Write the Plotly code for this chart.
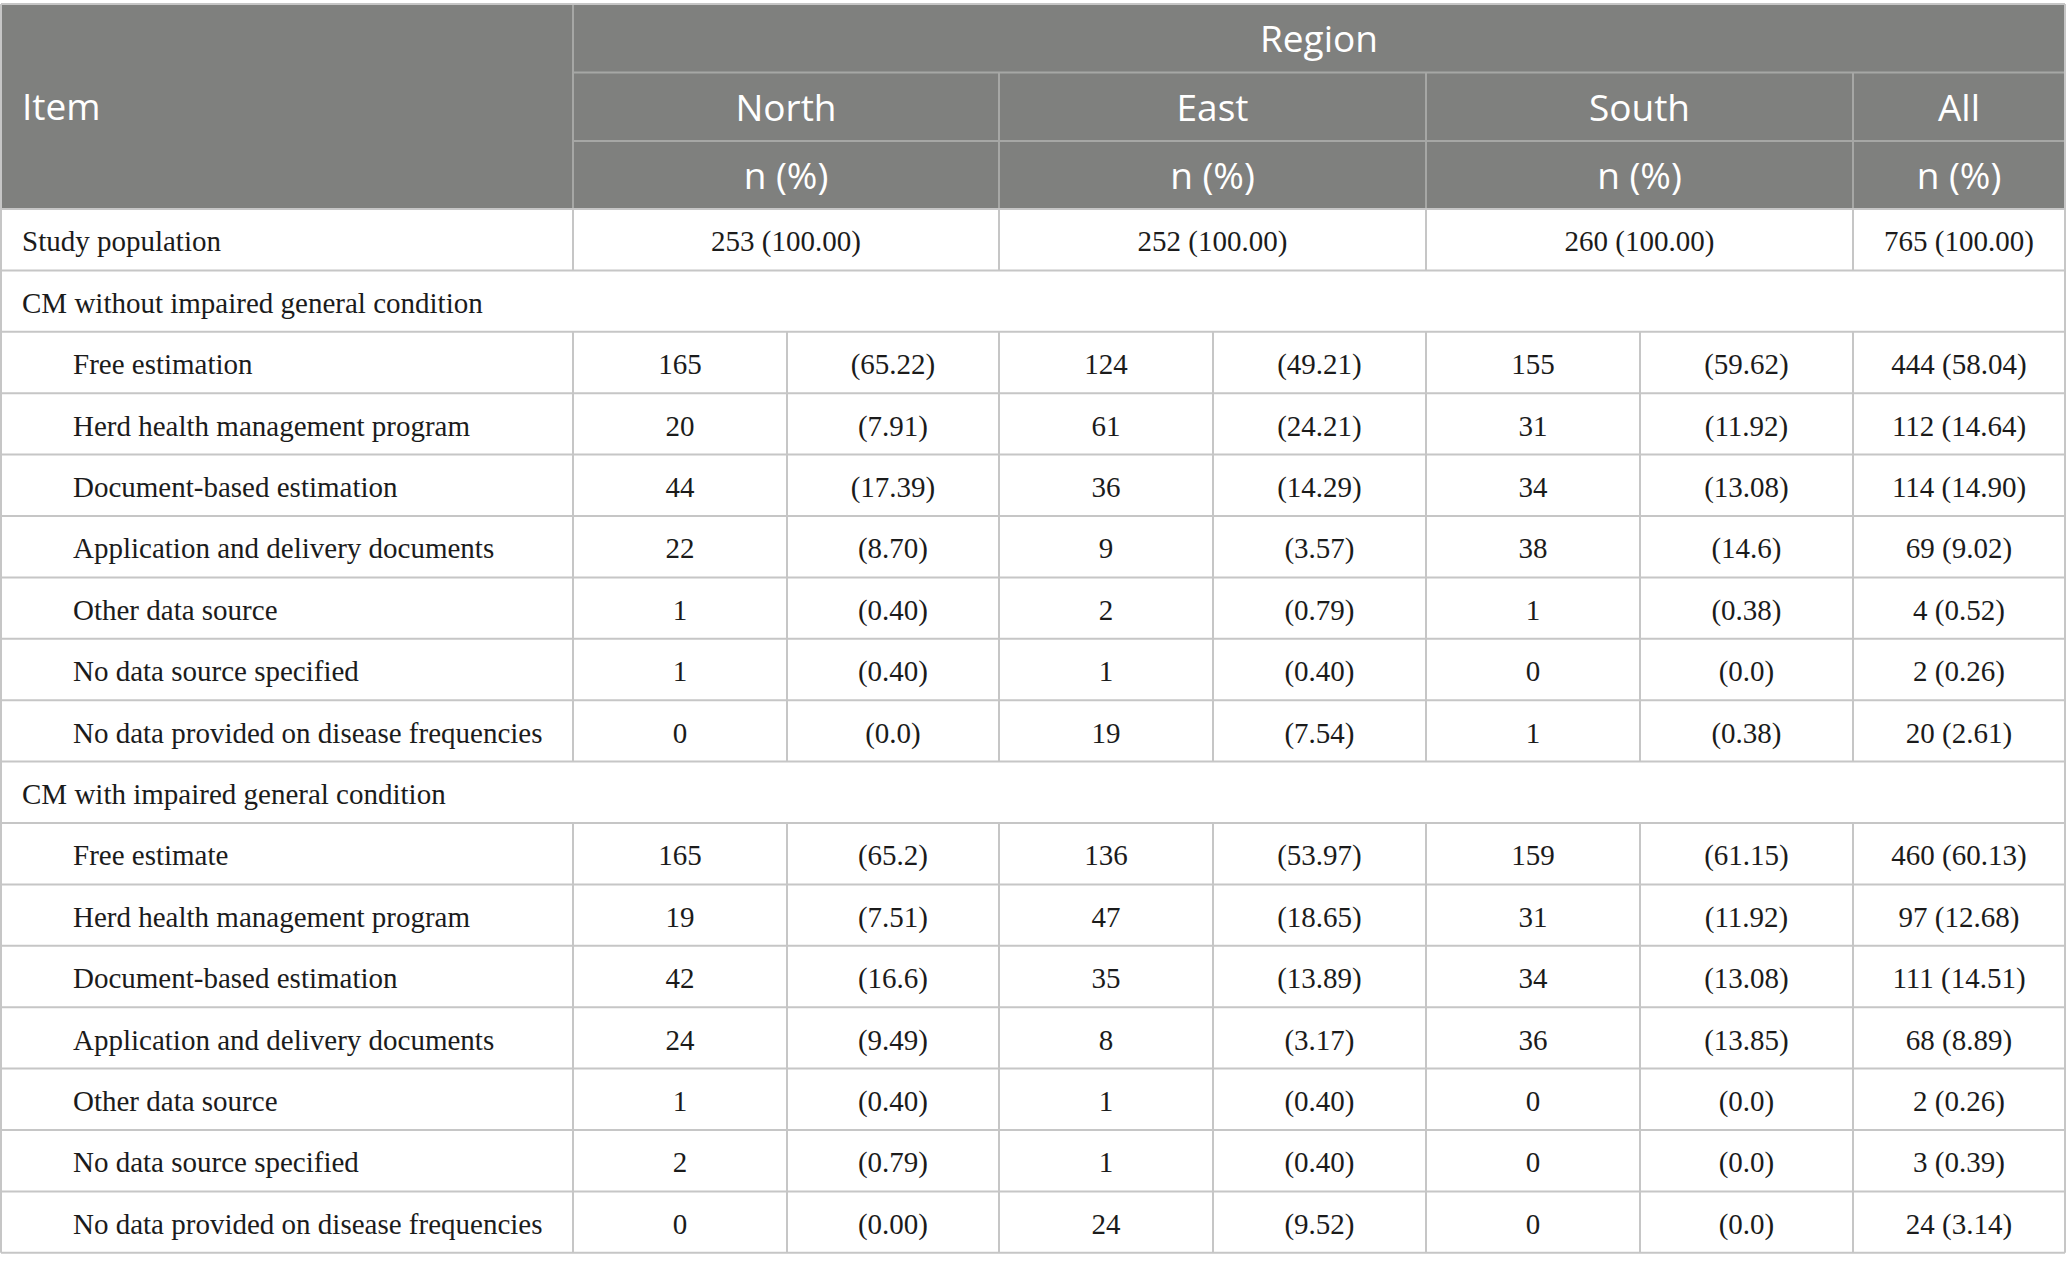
import plotly.graph_objects as go

# ---------------- data ----------------
header_item = "Item"
header_region = "Region"
regions = ["North", "East", "South", "All"]
header_unit = "n (%)"

study_label = "Study population"
study_n = [253, 252, 260, 765]
study_pct = ["100.00", "100.00", "100.00", "100.00"]

group_labels = ["CM without impaired general condition",
                "CM with impaired general condition"]

items_without = ["Free estimation", "Herd health management program",
                 "Document-based estimation", "Application and delivery documents",
                 "Other data source", "No data source specified",
                 "No data provided on disease frequencies"]
north_n_without = [165, 20, 44, 22, 1, 1, 0]
north_pct_without = ["65.22", "7.91", "17.39", "8.70", "0.40", "0.40", "0.0"]
east_n_without = [124, 61, 36, 9, 2, 1, 19]
east_pct_without = ["49.21", "24.21", "14.29", "3.57", "0.79", "0.40", "7.54"]
south_n_without = [155, 31, 34, 38, 1, 0, 1]
south_pct_without = ["59.62", "11.92", "13.08", "14.6", "0.38", "0.0", "0.38"]
all_n_without = [444, 112, 114, 69, 4, 2, 20]
all_pct_without = ["58.04", "14.64", "14.90", "9.02", "0.52", "0.26", "2.61"]

items_with = ["Free estimate", "Herd health management program",
              "Document-based estimation", "Application and delivery documents",
              "Other data source", "No data source specified",
              "No data provided on disease frequencies"]
north_n_with = [165, 19, 42, 24, 1, 2, 0]
north_pct_with = ["65.2", "7.51", "16.6", "9.49", "0.40", "0.79", "0.00"]
east_n_with = [136, 47, 35, 8, 1, 1, 24]
east_pct_with = ["53.97", "18.65", "13.89", "3.17", "0.40", "0.40", "9.52"]
south_n_with = [159, 31, 34, 36, 0, 0, 0]
south_pct_with = ["61.15", "11.92", "13.08", "13.85", "0.0", "0.0", "0.0"]
all_n_with = [460, 97, 111, 68, 2, 3, 24]
all_pct_with = ["60.13", "12.68", "14.51", "8.89", "0.26", "0.39", "3.14"]

# ---------------- layout constants ----------------
W, H = 2067, 1268
X_EDGES = [1, 573, 787, 999, 1213, 1426, 1640, 1853, 2065]
HEAD_Y = [4, 72.5, 141, 209]
ROW_H = 61.4
PAD_L1, PAD_L2 = 21, 72
TEXT_DY = 4.5
HEAD_FILL = "#7f807e"
HEAD_LINE = "#a6a7a5"
BODY_LINE = "#c6c6c6"
TXT = "#1b1b1b"
BODY_FONT = dict(family="Liberation Serif", size=29, color=TXT)
HEAD_FONT = dict(family="Open Sans", size=37, color="white")

# build body rows: (kind, label, cells)
rows = [("study", study_label, None)]
groups = [
    (group_labels[0], items_without,
     [(north_n_without, north_pct_without), (east_n_without, east_pct_without),
      (south_n_without, south_pct_without)], (all_n_without, all_pct_without)),
    (group_labels[1], items_with,
     [(north_n_with, north_pct_with), (east_n_with, east_pct_with),
      (south_n_with, south_pct_with)], (all_n_with, all_pct_with)),
]
for glabel, items, regs, alls in groups:
    rows.append(("group", glabel, None))
    for i, it in enumerate(items):
        cells = []
        for n_arr, p_arr in regs:
            cells.append(str(n_arr[i]))
            cells.append("(" + p_arr[i] + ")")
        cells.append(f"{alls[0][i]} ({alls[1][i]})")
        rows.append(("item", it, cells))

body_top = HEAD_Y[-1]
body_bottom = body_top + ROW_H * len(rows)

shapes = []
def line(x0, y0, x1, y1, color, w=2):
    shapes.append(dict(type="line", xref="x", yref="y", x0=x0, y0=y0, x1=x1, y1=y1,
                       line=dict(color=color, width=w), layer="above"))

# header background
shapes.append(dict(type="rect", xref="x", yref="y", x0=X_EDGES[0], x1=X_EDGES[-1],
                   y0=HEAD_Y[0], y1=HEAD_Y[-1], fillcolor=HEAD_FILL,
                   line=dict(width=0), layer="below"))
# header internal lines
line(X_EDGES[1], HEAD_Y[0], X_EDGES[1], HEAD_Y[-1], HEAD_LINE)
line(X_EDGES[1], HEAD_Y[1], X_EDGES[-1], HEAD_Y[1], HEAD_LINE)
line(X_EDGES[1], HEAD_Y[2], X_EDGES[-1], HEAD_Y[2], HEAD_LINE)
for xe in [X_EDGES[3], X_EDGES[5], X_EDGES[7]]:
    line(xe, HEAD_Y[1], xe, HEAD_Y[-1], HEAD_LINE)
# outer top border
line(X_EDGES[0], HEAD_Y[0], X_EDGES[-1], HEAD_Y[0], BODY_LINE)

# body lines
for r in range(len(rows) + 1):
    y = body_top + r * ROW_H
    line(X_EDGES[0], y, X_EDGES[-1], y, BODY_LINE)
line(X_EDGES[0], HEAD_Y[0], X_EDGES[0], body_bottom, BODY_LINE)
line(X_EDGES[-1], HEAD_Y[0], X_EDGES[-1], body_bottom, BODY_LINE)
for r, (kind, _, _) in enumerate(rows):
    y0 = body_top + r * ROW_H
    y1 = y0 + ROW_H
    if kind == "study":
        inner = [X_EDGES[1], X_EDGES[3], X_EDGES[5], X_EDGES[7]]
    elif kind == "item":
        inner = X_EDGES[1:-1]
    else:
        inner = []
    for xe in inner:
        line(xe, y0, xe, y1, BODY_LINE)

# ---------------- text ----------------
lx, ly, lt = [], [], []   # left-aligned body text
cx, cy, ct = [], [], []   # centered body text
for r, (kind, label, cells) in enumerate(rows):
    yc = body_top + (r + 0.5) * ROW_H + TEXT_DY
    lx.append(X_EDGES[0] + (PAD_L2 if kind == "item" else PAD_L1))
    ly.append(yc)
    lt.append(label)
    if kind == "study":
        for k in range(4):
            a, b = X_EDGES[2 * k + 1], X_EDGES[2 * k + 3] if k < 3 else X_EDGES[-1]
            cx.append((a + b) / 2); cy.append(yc)
            ct.append(f"{study_n[k]} ({study_pct[k]})")
    elif kind == "item":
        for k, txt in enumerate(cells):
            a, b = X_EDGES[k + 1], X_EDGES[k + 2]
            cx.append((a + b) / 2); cy.append(yc); ct.append(txt)

hx, hy, ht = [], [], []
hx.append((X_EDGES[1] + X_EDGES[-1]) / 2); hy.append((HEAD_Y[0] + HEAD_Y[1]) / 2 + TEXT_DY); ht.append(header_region)
for k, reg in enumerate(regions):
    a = X_EDGES[2 * k + 1]
    b = X_EDGES[2 * k + 3] if k < 3 else X_EDGES[-1]
    hx.append((a + b) / 2); hy.append((HEAD_Y[1] + HEAD_Y[2]) / 2 + TEXT_DY); ht.append(reg)
    hx.append((a + b) / 2); hy.append((HEAD_Y[2] + HEAD_Y[3]) / 2 + TEXT_DY); ht.append(header_unit)

fig = go.Figure()
fig.add_trace(go.Scatter(x=lx, y=ly, text=lt, mode="text", textposition="middle right",
                         textfont=BODY_FONT, hoverinfo="skip", showlegend=False))
fig.add_trace(go.Scatter(x=cx, y=cy, text=ct, mode="text", textposition="middle center",
                         textfont=BODY_FONT, hoverinfo="skip", showlegend=False))
fig.add_trace(go.Scatter(x=hx, y=hy, text=ht, mode="text", textposition="middle center",
                         textfont=HEAD_FONT, hoverinfo="skip", showlegend=False))
fig.add_trace(go.Scatter(x=[X_EDGES[0] + PAD_L1], y=[(HEAD_Y[0] + HEAD_Y[-1]) / 2 + TEXT_DY],
                         text=[header_item], mode="text", textposition="middle right",
                         textfont=HEAD_FONT, hoverinfo="skip", showlegend=False))

fig.update_layout(
    width=W, height=H, margin=dict(l=0, r=0, t=0, b=0),
    paper_bgcolor="white", plot_bgcolor="white",
    xaxis=dict(range=[0, W], visible=False, fixedrange=True),
    yaxis=dict(range=[H, 0], visible=False, fixedrange=True),
    shapes=shapes,
)
fig.write_html("out.html", config={"displayModeBar": False},
               post_script="document.body.style.margin='0';document.body.style.overflow='hidden';")
